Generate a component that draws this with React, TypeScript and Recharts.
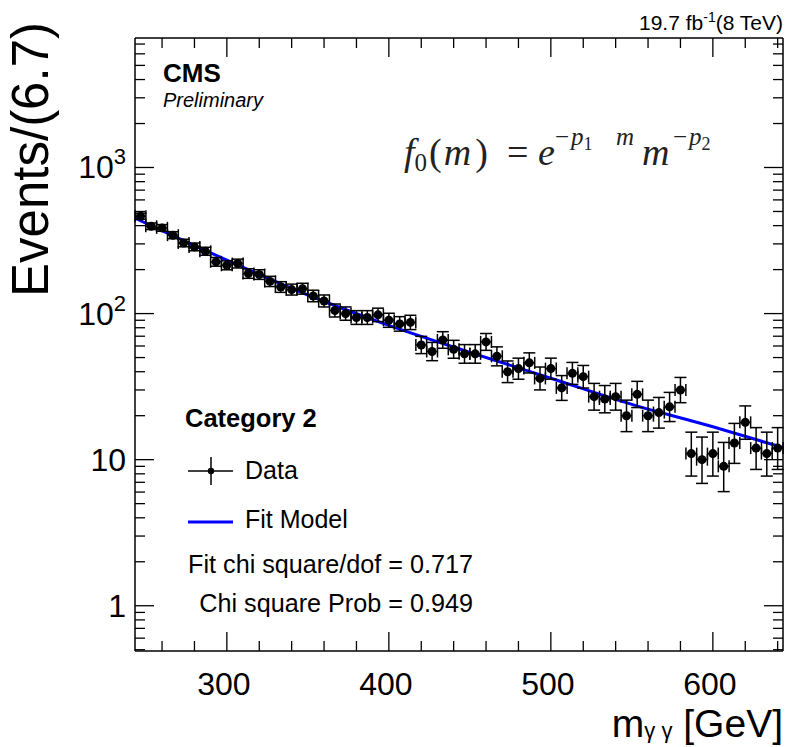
import React from "react";
import { ComposedChart, XAxis, YAxis, Scatter, Line, ErrorBar } from "recharts";

// bin centres (GeV), bin width 6.67
const massBins = [
  246.7, 253.3, 260.0, 266.7, 273.3, 280.0, 286.7, 293.3, 300.0, 306.7,
  313.3, 320.0, 326.7, 333.3, 340.0, 346.7, 353.3, 360.0, 366.7, 373.3,
  380.0, 386.7, 393.3, 400.0, 406.7, 413.3, 420.0, 426.7, 433.3, 440.0,
  446.7, 453.3, 460.0, 466.7, 473.3, 480.0, 486.7, 493.3, 500.0, 506.7,
  513.3, 520.0, 526.7, 533.3, 540.0, 546.7, 553.3, 560.0, 566.7, 573.3,
  580.0, 586.7, 593.3, 600.0, 606.7, 613.3, 620.0, 626.7, 633.3, 640.0,
];

const eventCounts = [
  464, 396, 386, 344, 304, 286, 267, 226, 214, 220,
  188, 185, 166, 152, 146, 148, 132, 122, 105, 100,
  94, 94, 98, 90, 85, 87, 61, 55, 66, 57,
  53, 53, 64, 51, 40, 42, 46, 36, 42, 31,
  39, 37, 27, 26, 27, 20, 28, 20, 21, 23,
  30, 11, 10, 11, 9, 13, 18, 12, 11, 12,
];

// fit model
const fitMass = [243.3, 270, 300, 350, 400, 450, 500, 550, 600, 643.3];
const fitValue = [450, 328, 232, 134, 83, 54.3, 36.1, 23.9, 16.8, 12.1];

const xTicks = [260, 280, 300, 320, 340, 360, 380, 400, 420, 440, 460, 480, 500, 520, 540, 560, 580, 600, 620, 640];
const yTicks = [
  0.5, 0.6, 0.7, 0.8, 0.9, 1, 2, 3, 4, 5, 6, 7, 8, 9,
  10, 20, 30, 40, 50, 60, 70, 80, 90,
  100, 200, 300, 400, 500, 600, 700, 800, 900,
  1000, 2000, 3000, 4000, 5000, 6000, 7000,
];
const yMajorLabels: Record<number, [string, string]> = {
  1: ["1", ""],
  10: ["10", ""],
  100: ["10", "2"],
  1000: ["10", "3"],
};

const X_DOMAIN: [number, number] = [243.3, 643.3];
const Y_DOMAIN: [number, number] = [0.49, 7700];
const HALF_BIN = 3.33;

const points = massBins.map((m, i) => {
  const n = eventCounts[i];
  return {
    m,
    v: n,
    ex: HALF_BIN,
    ey: [Math.sqrt(n - 0.25), Math.sqrt(n + 0.75) + 1],
  };
});

const fitData = fitMass.map((m, i) => ({ m, v: fitValue[i] }));

const SANS = "'Liberation Sans', Arial, sans-serif";
const SERIF = "'Liberation Serif', 'Times New Roman', serif";
const MAJOR = 19;
const MINOR = 10;

const isMajorY = (v: number) => [1, 10, 100, 1000].includes(v);

const BottomTick = (props: any) => {
  const { x, y, payload } = props;
  const major = payload.value % 100 === 0;
  return (
    <g>
      <line x1={x} x2={x} y1={y} y2={y - (major ? MAJOR : MINOR)} stroke="#000" strokeWidth={1.3} />
      {major && (
        <text x={x - 3} y={y + 44} textAnchor="middle" fontSize={32} fontFamily={SANS} fill="#000">
          {payload.value}
        </text>
      )}
    </g>
  );
};

const TopTick = (props: any) => {
  const { x, y, payload } = props;
  const major = payload.value % 100 === 0;
  return <line x1={x} x2={x} y1={y} y2={y + (major ? MAJOR : MINOR)} stroke="#000" strokeWidth={1.3} />;
};

const LeftTick = (props: any) => {
  const { x, y, payload } = props;
  const major = isMajorY(payload.value);
  const lab = yMajorLabels[payload.value];
  return (
    <g>
      <line x1={x} x2={x + (major ? MAJOR : MINOR)} y1={y} y2={y} stroke="#000" strokeWidth={1.3} />
      {lab && (
        <text x={x - 9} y={y + 11} textAnchor="end" fontSize={32} fontFamily={SANS} fill="#000">
          {lab[0]}
          {lab[1] && (
            <tspan dy={-14} fontSize={22}>
              {lab[1]}
            </tspan>
          )}
        </text>
      )}
    </g>
  );
};

const RightTick = (props: any) => {
  const { x, y, payload } = props;
  const major = isMajorY(payload.value);
  return <line x1={x} x2={x - (major ? MAJOR : MINOR)} y1={y} y2={y} stroke="#000" strokeWidth={1.3} />;
};

const axisLine = { stroke: "#000", strokeWidth: 1.5 };

export default function App() {
  return (
    <div style={{ position: "absolute", left: 0, top: 0, width: 788, height: 747, background: "#fff" }}>
      <ComposedChart width={788} height={747} margin={{ top: 37, right: 4, bottom: 95, left: 134 }}>
        <XAxis
          xAxisId="bottom"
          dataKey="m"
          type="number"
          domain={X_DOMAIN}
          allowDataOverflow
          ticks={xTicks}
          interval={0}
          height={1}
          tickSize={0}
          tickMargin={0}
          tickLine={false}
          axisLine={axisLine}
          tick={(p: any) => <BottomTick {...p} />}
        />
        <XAxis
          xAxisId="top"
          orientation="top"
          dataKey="m"
          type="number"
          domain={X_DOMAIN}
          allowDataOverflow
          ticks={xTicks}
          interval={0}
          height={1}
          tickSize={0}
          tickMargin={0}
          tickLine={false}
          axisLine={axisLine}
          tick={(p: any) => <TopTick {...p} />}
        />
        <YAxis
          yAxisId="left"
          dataKey="v"
          type="number"
          scale="log"
          domain={Y_DOMAIN}
          allowDataOverflow
          ticks={yTicks}
          interval={0}
          width={1}
          tickSize={0}
          tickMargin={0}
          tickLine={false}
          axisLine={axisLine}
          tick={(p: any) => <LeftTick {...p} />}
        />
        <YAxis
          yAxisId="right"
          orientation="right"
          dataKey="v"
          type="number"
          scale="log"
          domain={Y_DOMAIN}
          allowDataOverflow
          ticks={yTicks}
          interval={0}
          width={1}
          tickSize={0}
          tickMargin={0}
          tickLine={false}
          axisLine={axisLine}
          tick={(p: any) => <RightTick {...p} />}
        />
        <Line
          xAxisId="bottom"
          yAxisId="left"
          data={fitData}
          dataKey="v"
          type="monotone"
          stroke="#0000ff"
          strokeWidth={3}
          dot={false}
          activeDot={false}
          isAnimationActive={false}
        />
        <Scatter
          xAxisId="bottom"
          yAxisId="left"
          data={points}
          dataKey="v"
          fill="#000"
          isAnimationActive={false}
        >
          <ErrorBar dataKey="ey" direction="y" width={6} stroke="#000" strokeWidth={1.5} isAnimationActive={false} />
          <ErrorBar dataKey="ex" direction="x" width={6} stroke="#000" strokeWidth={1.5} isAnimationActive={false} />
        </Scatter>
      </ComposedChart>

      <svg width={788} height={747} style={{ position: "absolute", left: 0, top: 0, pointerEvents: "none" }}>
        <g fontFamily={SANS} fill="#000">
          <text x={783} y={30} textAnchor="end" fontSize={21}>
            19.7 fb<tspan dy={-8} fontSize={14}>-1</tspan>
            <tspan dy={8} fontSize={21}>(8 TeV)</tspan>
          </text>
          <text x={163} y={82} fontSize={26} fontWeight="bold">CMS</text>
          <text x={163} y={107} fontSize={20} fontStyle="italic">Preliminary</text>

          <text x={48} y={22} fontSize={51} textAnchor="end" transform="rotate(-90 48 22)">
            Events/(6.7)
          </text>
          <text x={783} y={737} textAnchor="end" fontSize={39}>
            m<tspan dy={1} fontSize={22}>γ γ</tspan>
            <tspan dy={-1} fontSize={39}> [GeV]</tspan>
          </text>

          <text x={185} y={427} fontSize={25.5} fontWeight="bold">Category 2</text>
          <line x1={188} x2={233} y1={471} y2={471} stroke="#000" strokeWidth={1.5} />
          <line x1={211} x2={211} y1={457} y2={485} stroke="#000" strokeWidth={1.5} />
          <circle cx={211} cy={471} r={3.2} fill="#000" />
          <text x={245} y={479} fontSize={25}>Data</text>
          <line x1={188} x2={233} y1={522} y2={522} stroke="#0000ff" strokeWidth={3} />
          <text x={245} y={528} fontSize={25}>Fit Model</text>
          <text x={473} y={573} fontSize={25.2} textAnchor="end">Fit chi square/dof = 0.717</text>
          <text x={473} y={612} fontSize={25.2} textAnchor="end">Chi square Prob = 0.949</text>
        </g>
        <g fontFamily={SERIF} fill="#222">
          <text y={165} fontSize={38}>
            <tspan x={404} fontStyle="italic">f</tspan>
            <tspan fontSize={25} dy={6}>0</tspan>
            <tspan dx={2} dy={-6}>(</tspan>
            <tspan dx={2} fontStyle="italic">m</tspan>
            <tspan dx={4}>)</tspan>
            <tspan x={507}>=</tspan>
            <tspan x={538} fontStyle="italic">e</tspan>
          </text>
          <text y={145} fontSize={25}>
            <tspan x={555}>−</tspan>
            <tspan dx={2} fontStyle="italic">p</tspan>
            <tspan fontSize={18} dy={5}>1</tspan>
            <tspan x={616} fontStyle="italic" dy={-5}>m</tspan>
          </text>
          <text y={165} fontSize={38}>
            <tspan x={642} fontStyle="italic">m</tspan>
          </text>
          <text y={145} fontSize={25}>
            <tspan x={673}>−</tspan>
            <tspan dx={2} fontStyle="italic">p</tspan>
            <tspan fontSize={18} dy={5}>2</tspan>
          </text>
        </g>
      </svg>
    </div>
  );
}
